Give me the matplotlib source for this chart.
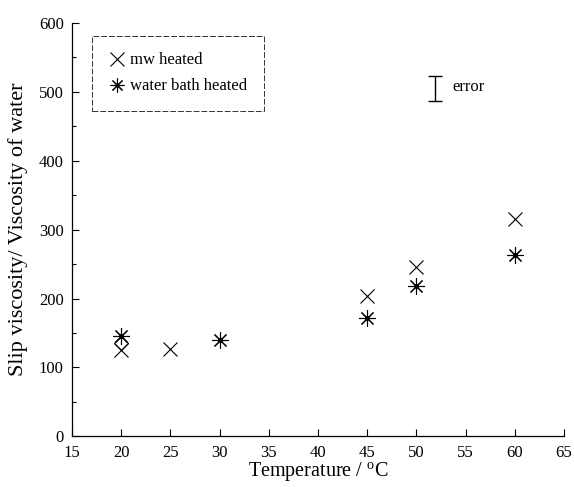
import matplotlib.pyplot as plt
from matplotlib.lines import Line2D
from matplotlib.ticker import MultipleLocator

# values
mw_temp = [20, 25, 45, 50, 60]
mw_visc = [125, 127, 204, 246, 316]
wb_temp = [20, 30, 45, 50, 60]
wb_visc = [145, 140, 172, 218, 263]
odd_temp = [20]
odd_visc = [136]
err_x = 51.9
err_y = 505
err_half = 18

plt.rcParams["font.family"] = ["Liberation Serif", "DejaVu Serif"]

fig = plt.figure(figsize=(5.74, 4.87), dpi=100)
ax = fig.add_axes([0.1254, 0.104, 0.857, 0.849])

ax.plot(mw_temp, mw_visc, linestyle="none", marker="x", markersize=10,
        markeredgewidth=0.8, color="black")
ax.plot(wb_temp, wb_visc, linestyle="none", marker=(8, 2, 0), markersize=12,
        markeredgewidth=0.8, color="black")
ax.plot(wb_temp, wb_visc, linestyle="none", marker="o", markersize=2.5,
        color="black")
ax.plot(odd_temp, odd_visc, linestyle="none", marker="D", markersize=7,
        markerfacecolor="none", markeredgewidth=0.8, color="black")

# error scale bar
ax.errorbar([err_x], [err_y], yerr=[err_half], fmt="none", ecolor="black",
            elinewidth=1.0, capsize=5, capthick=1.0)
ax.text(err_x + 1.8, err_y + 2, "error", fontsize=12, va="center", ha="left")

ax.set_xlim(15, 65)
ax.set_ylim(0, 600)
ax.xaxis.set_major_locator(MultipleLocator(5))
ax.yaxis.set_major_locator(MultipleLocator(100))
ax.yaxis.set_minor_locator(MultipleLocator(50))
ax.tick_params(axis="both", which="both", direction="in", labelsize=12,
               width=0.8)
ax.tick_params(axis="both", which="major", length=5)
ax.tick_params(axis="x", pad=6)
ax.tick_params(axis="y", pad=6)
ax.tick_params(axis="y", which="minor", length=3)

for side in ["top", "right"]:
    ax.spines[side].set_visible(False)
for side in ["left", "bottom"]:
    ax.spines[side].set_linewidth(0.9)

ax.set_xlabel("Temperature / $^{\\mathregular{o}}$C", fontsize=14.5, labelpad=0)
ax.set_ylabel("Slip viscosity/ Viscosity of water", fontsize=16, labelpad=8)

handles = [
    Line2D([], [], linestyle="none", marker="x", markersize=10,
           markeredgewidth=0.8, color="black"),
    Line2D([], [], linestyle="none", marker=(8, 2, 0), markersize=10,
           markeredgewidth=0.8, color="black"),
]
leg = ax.legend(handles, ["mw heated", "water bath heated"], loc="upper left",
                bbox_to_anchor=(0.04, 0.969), borderaxespad=0, fontsize=12,
                frameon=True, fancybox=False, edgecolor="black",
                handlelength=1.0, handletextpad=0.3, borderpad=1.0,
                labelspacing=0.6)
leg.get_frame().set_linewidth(0.7)
leg.get_frame().set_linestyle((0, (6, 2)))

fig.savefig("out.png", dpi=100)
